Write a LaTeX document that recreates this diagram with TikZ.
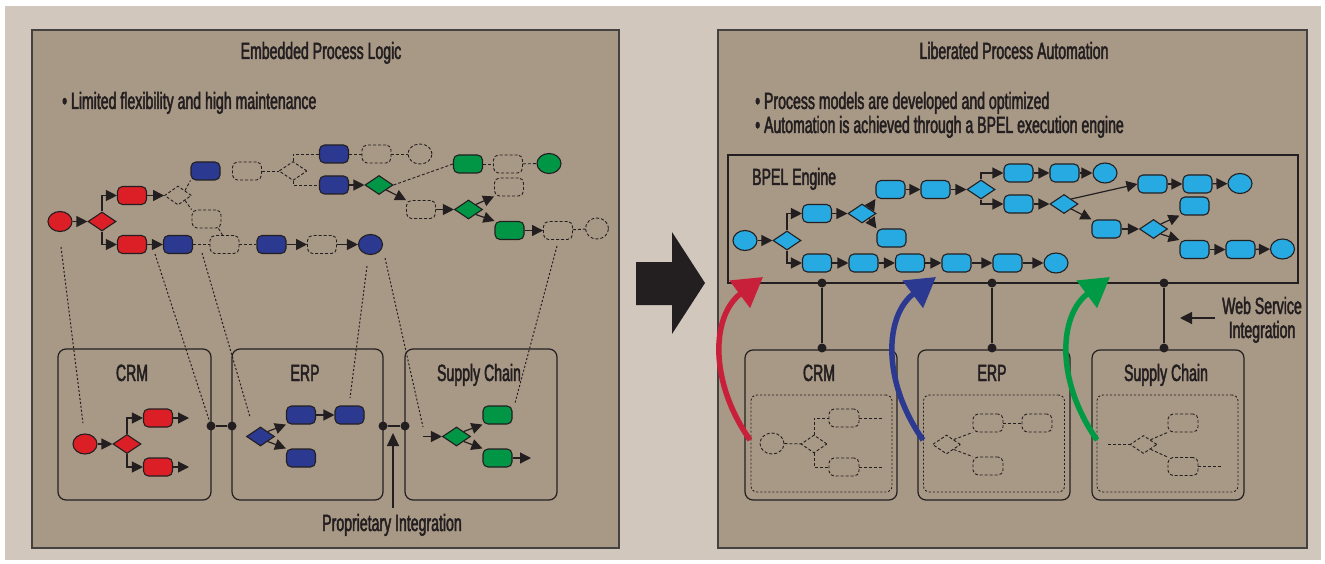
\documentclass[tikz,border=0pt]{standalone}
\usepackage{fontspec}
\setmainfont{Liberation Sans}[FakeStretch=0.6,FakeBold=2]
\usetikzlibrary{shapes.geometric,arrows.meta}
\definecolor{bgout}{HTML}{D1C7BC}
\definecolor{panelc}{HTML}{A89886}
\definecolor{ln}{HTML}{231F20}
\definecolor{cred}{HTML}{DC1F26}
\definecolor{cblue}{HTML}{2B3990}
\definecolor{cgreen}{HTML}{009646}
\definecolor{ccyan}{HTML}{27AAE1}
\definecolor{ared}{HTML}{C8203A}
\definecolor{ablue}{HTML}{2B3990}
\definecolor{agreen}{HTML}{009A44}
\begin{document}
\begin{tikzpicture}[x=1pt,y=-1pt,
  font=\fontsize{23.5}{28}\selectfont,
  txt/.style={text=ln, inner sep=0pt},
  pbox/.style={rectangle, rounded corners=5pt, minimum width=29pt, minimum height=18pt, inner sep=0pt, draw=ln, line width=1.1pt},
  dbox/.style={pbox, dash pattern=on 3pt off 2pt, line width=0.9pt},
  circ/.style={ellipse, minimum width=24pt, minimum height=20pt, inner sep=0pt, draw=ln, line width=1.1pt},
  dcirc/.style={circ, dash pattern=on 3pt off 2pt, line width=0.9pt},
  dia/.style={diamond, minimum width=28pt, minimum height=19pt, inner sep=0pt, draw=ln, line width=1.1pt},
  ddia/.style={dia, dash pattern=on 3pt off 2pt, line width=0.9pt},
  conn/.style={draw=ln, line width=1.2pt, -{Triangle[length=11pt,width=11pt]}},
  dl/.style={draw=ln, line width=0.9pt, dash pattern=on 3pt off 2pt},
  maplink/.style={draw=ln, line width=1pt, dash pattern=on 2pt off 2pt},
  sys/.style={rectangle, rounded corners=8pt, draw=ln, line width=1.2pt, inner sep=0pt},
  dsys/.style={rectangle, rounded corners=6pt, draw=ln, line width=0.9pt, dash pattern=on 2pt off 2pt, inner sep=0pt, minimum width=141pt, minimum height=97pt},
  jdot/.style={circle, fill=ln, inner sep=0pt, minimum size=9pt},
  solid1/.style={draw=ln, line width=1.2pt},
  panel/.style={fill=panelc, draw=ln!85, line width=1.5pt},
  bigarrow/.style={line width=5.5pt}
]
\useasboundingbox (0,0) rectangle (1325,564);
\fill[white] (0,0) rectangle (1325,564);
\fill[bgout] (5,6) rectangle (1321,560);
\draw[panel] (32,30) rectangle (619,548);
\draw[panel] (718,30) rectangle (1307,548);

% ---------------- left panel texts
\node[txt, anchor=base] (tL) at (321,59) {Embedded Process Logic};
\node[txt, anchor=base west] (bL) at (62,109) {\textbullet\ Limited flexibility and high maintenance};

% ---------------- left upper flow
\node[circ, fill=cred] (r0) at (60,221.5) {};
\node[dia, fill=cred] (rd) at (102,221.5) {};
\node[pbox, fill=cred] (r1) at (132,195.5) {};
\node[pbox, fill=cred] (r2) at (132,244.5) {};
\node[ddia, minimum width=27pt] (dd1) at (178,195.5) {};
\node[pbox, fill=cblue] (b1) at (205.5,171) {};
\node[dbox] (db1) at (206.5,219) {};
\node[pbox, fill=cblue] (b2) at (178,244.5) {};
\node[dbox] (db2) at (224.5,244.5) {};
\node[pbox, fill=cblue] (b3) at (271.5,244.5) {};
\node[dbox] (db3) at (322,244.5) {};
\node[circ, fill=cblue] (bc) at (370.5,244.5) {};
\node[dbox] (db4) at (247,171) {};
\node[ddia] (dd2) at (293,171) {};
\node[pbox, fill=cblue] (b4) at (334,154) {};
\node[pbox, fill=cblue] (b5) at (334,185) {};
\node[dbox] (db5) at (376.5,154) {};
\node[dcirc] (dc1) at (420,154) {};
\node[dia, fill=cgreen] (gd1) at (379,185) {};
\node[pbox, fill=cgreen] (g1) at (468,164) {};
\node[dbox] (db6) at (508,164) {};
\node[circ, fill=cgreen] (gc) at (549,163.5) {};
\node[dbox] (db7) at (421,209.5) {};
\node[dia, fill=cgreen] (gd2) at (468.5,209.5) {};
\node[dbox] (db8) at (509,187) {};
\node[pbox, fill=cgreen] (g2) at (509.5,230.5) {};
\node[dbox] (db9) at (558,230.5) {};
\node[dcirc, minimum width=23pt, minimum height=21pt] (dc2) at (597,228.5) {};

\draw[conn] (r0) -- (rd);
\draw[conn] (rd.north) |- (r1);
\draw[conn] (rd.south) |- (r2);
\draw[conn] (r1) -- (dd1);
\draw[dl] (dd1.north east) -- (b1.south west);
\draw[dl] (dd1.south east) -- (db1.north west);
\draw[dl] ([xshift=-3pt]db1.south east) -- ([xshift=-2pt]db2.north);
\draw[conn] (r2) -- (b2);
\draw[dl] (b2) -- (db2);
\draw[dl] (db2) -- (b3);
\draw[conn] (b3) -- (db3);
\draw[conn] (db3) -- (bc);
\draw[dl] (db4) -- (dd2);
\draw[dl] (dd2.north) |- (b4);
\draw[dl] (dd2.south) |- (b5);
\draw[dl] (b4) -- (db5);
\draw[dl] (db5) -- (dc1);
\draw[conn] (b5) -- (gd1);
\draw[dl] (gd1.east) -- (g1.west);
\draw[dl] (g1) -- (db6);
\draw[dl] (db6) -- (gc);
\draw[conn] (gd1.south east) -- (db7.north west);
\draw[conn] (db7) -- (gd2);
\draw[conn] (gd2.north east) -- (db8.south west);
\draw[conn] (gd2.south east) -- (g2.north west);
\draw[conn] (g2) -- (db9);
\draw[dl] (db9) -- (dc2);

% ---------------- left lower systems
\node[sys, minimum width=153pt, minimum height=151pt] (crmL) at (134.5,424.5) {};
\node[sys, minimum width=151pt, minimum height=151pt] (erpL) at (307.5,424.5) {};
\node[sys, minimum width=152pt, minimum height=151pt] (scL) at (481,424.5) {};
\node[txt, anchor=base] (lcrmL) at (132,381) {CRM};
\node[txt, anchor=base] (lerpL) at (305,381) {ERP};
\node[txt, anchor=base] (lscL) at (479,381) {Supply Chain};

\node[jdot] (j1) at (211,426) {};
\node[jdot] (j2) at (232,426) {};
\node[jdot] (j3) at (383,426) {};
\node[jdot] (j4) at (405,426) {};
\draw[solid1] (j1) -- (j2);
\draw[solid1] (j3) -- (j4);
\coordinate (pstart) at (393,508);
\draw[draw=ln, line width=1.2pt, -{Triangle[length=13pt,width=12pt]}] (pstart) -- (393,433);
\node[txt, anchor=base] (lprop) at (392,531) {Proprietary Integration};

% CRM inner
\node[circ, fill=cred] (cr0) at (85,444) {};
\node[dia, fill=cred] (cd) at (127,444) {};
\node[pbox, fill=cred] (cr1) at (158,418) {};
\node[pbox, fill=cred] (cr2) at (158,467) {};
\coordinate (cr1e) at (189,418);
\coordinate (cr2e) at (189,467);
\draw[conn] (cr0) -- (cd);
\draw[conn] (cd.north) |- (cr1);
\draw[conn] (cd.south) |- (cr2);
\draw[conn] (cr1) -- (cr1e);
\draw[conn] (cr2) -- (cr2e);
% ERP inner
\node[dia, fill=cblue] (ed) at (260.5,436.5) {};
\node[pbox, fill=cblue] (eb1) at (301,415) {};
\node[pbox, fill=cblue] (eb2) at (301,458) {};
\node[pbox, fill=cblue] (eb3) at (349.5,415) {};
\draw[conn] (ed.north east) -- (eb1.south west);
\draw[conn] (ed.south east) -- (eb2.north west);
\draw[conn] (eb1) -- (eb3);
% SC inner
\coordinate (scin) at (423,436.5);
\node[dia, fill=cgreen] (gd3) at (456.5,436.5) {};
\node[pbox, fill=cgreen] (gb1) at (497.5,415) {};
\node[pbox, fill=cgreen] (gb2) at (497.5,458) {};
\coordinate (gb2e) at (531,458);
\draw[conn] (scin) -- (gd3);
\draw[conn] (gd3.north east) -- (gb1.south west);
\draw[conn] (gd3.south east) -- (gb2.north west);
\draw[conn] (gb2) -- (gb2e);

% mapping lines
\draw[maplink] (61,247) -- (83,423);
\draw[maplink] (155,254) -- (j1);
\draw[maplink] (202,253) -- (250,417);
\draw[maplink] (367,266) -- (350,398);
\draw[maplink] (385,258) -- (423,427);
\draw[maplink] (557,246) -- (515,403);

% ---------------- big arrow
\fill[ln] (636,262) -- (672,262) -- (672,232) -- (705,283) -- (672,334) -- (672,305) -- (636,305) -- cycle;

% ---------------- right panel
\node[txt, anchor=base] (tR) at (1014,59) {Liberated Process Automation};
\node[txt, anchor=base west] (bR1) at (755,109) {\textbullet\ Process models are developed and optimized};
\node[txt, anchor=base west] (bR2) at (755,133) {\textbullet\ Automation is achieved through a BPEL execution engine};

\draw[solid1, line width=1.3pt] (728,155) rectangle (1298,283);
\node[txt, anchor=base west] (lbpel) at (752,185) {BPEL Engine};

\node[circ, fill=ccyan] (c0) at (745,240.5) {};
\node[dia, fill=ccyan] (d1) at (787,240.5) {};
\node[pbox, fill=ccyan] (p1) at (817,213.5) {};
\node[dia, fill=ccyan] (d2) at (862,213.5) {};
\node[pbox, fill=ccyan] (p2) at (890.5,189.5) {};
\node[pbox, fill=ccyan] (p3) at (891.5,238) {};
\node[pbox, fill=ccyan] (p4) at (935.5,189.5) {};
\node[dia, fill=ccyan] (d3) at (981,189.5) {};
\node[pbox, fill=ccyan] (p5) at (1018.5,173) {};
\node[pbox, fill=ccyan] (p6) at (1018.5,204) {};
\node[pbox, fill=ccyan] (p7) at (1064.5,173) {};
\node[circ, fill=ccyan] (c1) at (1105,173) {};
\node[dia, fill=ccyan] (d4) at (1064,204) {};
\node[pbox, fill=ccyan] (p8) at (1152.5,184) {};
\node[pbox, fill=ccyan] (p9) at (1197.5,184) {};
\node[circ, fill=ccyan] (c2) at (1240,183.5) {};
\node[pbox, fill=ccyan] (p10) at (1106.5,229) {};
\node[dia, fill=ccyan] (d5) at (1153.5,229) {};
\node[pbox, fill=ccyan] (p11) at (1194.5,206) {};
\node[pbox, fill=ccyan] (p12) at (1194.5,249.5) {};
\node[pbox, fill=ccyan] (p13) at (1240.5,249.5) {};
\node[circ, fill=ccyan] (c3) at (1282.5,249) {};
\node[pbox, fill=ccyan] (q1) at (817,263) {};
\node[pbox, fill=ccyan] (q2) at (863.5,263) {};
\node[pbox, fill=ccyan] (q3) at (910,263) {};
\node[pbox, fill=ccyan] (q4) at (956.5,263) {};
\node[pbox, fill=ccyan] (q5) at (1007.5,263) {};
\node[circ, fill=ccyan] (c4) at (1056,263) {};

\draw[conn] (c0) -- (d1);
\draw[conn] (d1.north) |- (p1);
\draw[conn] (d1.south) |- (q1);
\draw[conn] (p1) -- (d2);
\draw[conn] (d2.north east) -- (p2.south west);
\draw[conn] (d2.south east) -- (p3.north west);
\draw[conn] (p2) -- (p4);
\draw[conn] (p4) -- (d3);
\draw[conn] (d3.north) |- (p5);
\draw[conn] (d3.south) |- (p6);
\draw[conn] (p5) -- (p7);
\draw[conn] (p7) -- (c1);
\draw[conn] (p6) -- (d4);
\draw[conn] (d4.north east) -- (p8.west);
\draw[conn] (d4.south east) -- (p10.north west);
\draw[conn] (p8) -- (p9);
\draw[conn] (p9) -- (c2);
\draw[conn] (p10) -- (d5);
\draw[conn] (d5.north east) -- (p11.south west);
\draw[conn] (d5.south east) -- (p12.north west);
\draw[conn] (p12) -- (p13);
\draw[conn] (p13) -- (c3);
\draw[conn] (q1) -- (q2);
\draw[conn] (q2) -- (q3);
\draw[conn] (q3) -- (q4);
\draw[conn] (q4) -- (q5);
\draw[conn] (q5) -- (c4);

% right lower systems
\node[sys, minimum width=152pt, minimum height=150pt] (crmR) at (821,425) {};
\node[sys, minimum width=152pt, minimum height=150pt] (erpR) at (994,425) {};
\node[sys, minimum width=152pt, minimum height=150pt] (scR) at (1168,425) {};
\node[txt, anchor=base] (lcrmR) at (819,381) {CRM};
\node[txt, anchor=base] (lerpR) at (992,381) {ERP};
\node[txt, anchor=base] (lscR) at (1166,381) {Supply Chain};
\node[dsys] (icrm) at (821.5,443.5) {};
\node[dsys] (ierp) at (994,443.5) {};
\node[dsys] (isc) at (1167.5,443.5) {};

\node[jdot] (k1) at (822,283) {};
\node[jdot] (k2) at (822,348) {};
\node[jdot] (k3) at (992,283) {};
\node[jdot] (k4) at (992,348) {};
\node[jdot] (k5) at (1164,283) {};
\node[jdot] (k6) at (1164,348) {};
\draw[solid1] (k1) -- (k2);
\draw[solid1] (k3) -- (k4);
\draw[solid1] (k5) -- (k6);

% CRM sketch
\node[dcirc, minimum height=21pt] (sc0) at (772,443.5) {};
\node[ddia, minimum width=26pt, minimum height=18pt] (sd0) at (814,444) {};
\node[dbox, minimum width=30pt] (sb1) at (844,418) {};
\node[dbox, minimum width=30pt] (sb2) at (844,467) {};
\coordinate (sb1e) at (883,418);
\coordinate (sb2e) at (883,467);
\draw[dl] (sc0) -- (sd0);
\draw[dl] (sd0.north) |- (sb1);
\draw[dl] (sd0.south) |- (sb2);
\draw[dl] (sb1) -- (sb1e);
\draw[dl] (sb2) -- (sb2e);
% ERP sketch
\node[ddia, minimum width=28pt, minimum height=19pt] (se0) at (946.5,444.5) {};
\node[dbox, minimum width=30pt] (se1) at (988,423) {};
\node[dbox, minimum width=30pt] (se2) at (1037,423) {};
\node[dbox, minimum width=30pt] (se3) at (988,466) {};
\draw[dl] (se0.north east) -- (se1.south west);
\draw[dl] (se1) -- (se2);
\draw[dl] (se0.south east) -- (se3.north west);
% SC sketch
\coordinate (sgin) at (1108,444.5);
\node[ddia, minimum width=27pt, minimum height=18pt] (sg0) at (1143.5,444.5) {};
\node[dbox, minimum width=30pt] (sg1) at (1183,423) {};
\node[dbox, minimum width=30pt] (sg2) at (1183,466.5) {};
\coordinate (sg2e) at (1222,466.5);
\draw[dl] (sgin) -- (sg0);
\draw[dl] (sg0.north east) -- (sg1.south west);
\draw[dl] (sg0.south east) -- (sg2.north west);
\draw[dl] (sg2) -- (sg2e);

% coloured curved arrows
\coordinate (ra) at (750,440);
\coordinate (rb) at (763,277);
\coordinate (ba) at (923,440);
\coordinate (bb) at (936,277);
\coordinate (ga) at (1097,440);
\coordinate (gb) at (1110,277);
\draw[bigarrow, draw=ared, -{Triangle[length=29pt,width=33pt]}] (ra) .. controls (708,380) and (712,315) .. (rb);
\draw[bigarrow, draw=ablue, -{Triangle[length=29pt,width=33pt]}] (ba) .. controls (881,380) and (885,315) .. (bb);
\draw[bigarrow, draw=agreen, -{Triangle[length=29pt,width=33pt]}] (ga) .. controls (1055,380) and (1059,315) .. (gb);

% web service
\coordinate (wsa) at (1215,318);
\draw[draw=ln, line width=1.2pt, -{Triangle[length=12pt,width=12pt]}] (wsa) -- (1180,318);
\node[txt, anchor=base] (ws1) at (1262,314) {Web Service};
\node[txt, anchor=base] (ws2) at (1262,338) {Integration};
\end{tikzpicture}
\end{document}
